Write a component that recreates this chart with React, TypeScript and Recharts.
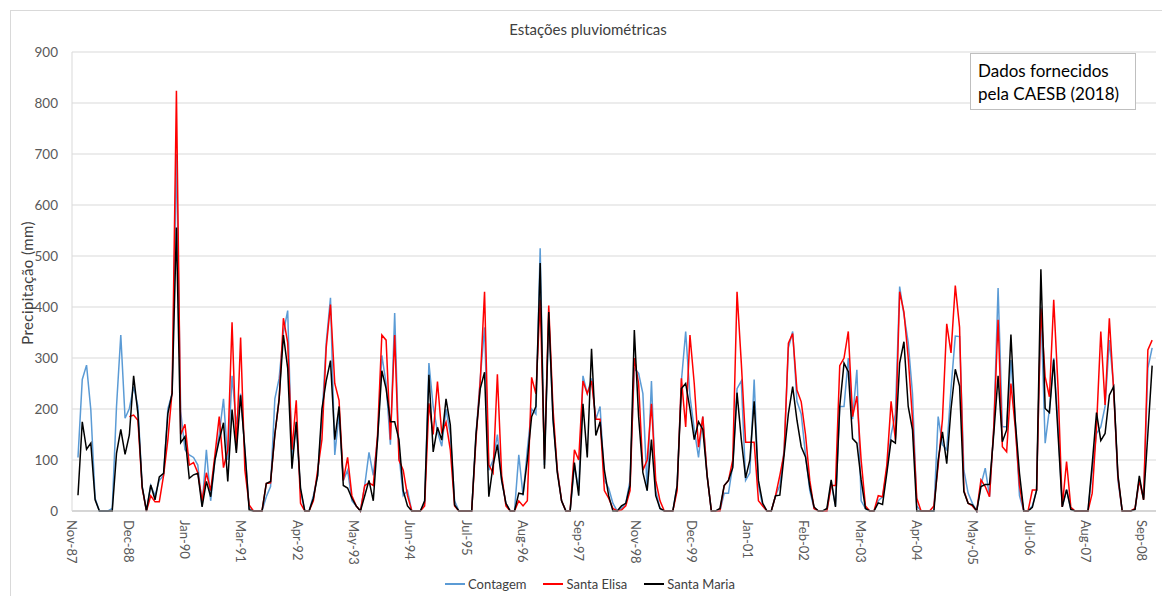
import React from "react";
import { CartesianGrid, Line, LineChart, XAxis, YAxis } from "recharts";

// monthly rainfall (mm), one value per month starting Dec-87
const CONTAGEM = [
  105, 258, 286, 198, 25, 0, 0, 0, 5, 205, 345, 182,
  201, 244, 205, 48, 0, 50, 30, 60, 70, 200, 230, 700,
  195, 120, 110, 105, 90, 10, 120, 20, 100, 150, 220, 100,
  265, 170, 230, 120, 5, 0, 0, 0, 28, 48, 220, 260,
  350, 393, 100, 170, 40, 0, 0, 30, 70, 180, 330, 418,
  110, 190, 60, 80, 20, 10, 0, 50, 115, 70, 140, 305,
  250, 130, 388, 110, 30, 40, 0, 0, 0, 15, 290, 205,
  155, 127, 200, 150, 20, 0, 0, 0, 0, 150, 260, 360,
  80, 100, 150, 60, 15, 0, 0, 110, 30, 120, 200, 190,
  515, 90, 380, 180, 80, 20, 0, 0, 90, 40, 265, 230,
  260, 180, 205, 60, 45, 15, 0, 5, 15, 60, 280, 270,
  230, 40, 255, 40, 5, 0, 0, 0, 50, 255, 352, 225,
  160, 105, 185, 70, 0, 0, 0, 35, 35, 90, 240, 255,
  60, 75, 258, 50, 10, 0, 0, 30, 50, 120, 320, 352,
  215, 190, 110, 40, 5, 0, 0, 0, 55, 10, 205, 205,
  300, 180, 277, 20, 5, 0, 0, 20, 28, 80, 150, 190,
  440, 385, 330, 230, 10, 0, 0, 0, 0, 185, 130, 120,
  240, 343, 342, 80, 35, 15, 0, 51, 84, 28, 165, 437,
  165, 165, 296, 180, 30, 0, 0, 10, 41, 400, 133, 200,
  300, 170, 8, 42, 3, 0, 0, 0, 0, 80, 152, 165,
  205, 335, 244, 60, 0, 0, 0, 3, 60, 25, 280, 320,
];

const SANTA_ELISA = [
  null, null, null, null, null, null, null, null, null, null, null, null,
  185, 188, 178, 45, 0, 30, 18, 18, 70, 140, 235, 824,
  150, 170, 90, 95, 75, 20, 75, 40, 110, 185, 85, 120,
  370, 120, 340, 80, 12, 0, 0, 0, 54, 55, 150, 218,
  378, 330, 120, 217, 15, 0, 0, 20, 80, 140, 320, 405,
  250, 217, 60, 105, 30, 10, 0, 50, 55, 50, 150, 345,
  335, 140, 345, 100, 80, 30, 0, 0, 0, 10, 211, 150,
  254, 152, 174, 120, 10, 0, 0, 0, 0, 140, 255, 430,
  90, 75, 268, 70, 10, 0, 0, 20, 10, 20, 262, 230,
  414, 100, 403, 200, 80, 20, 0, 0, 120, 100, 255, 230,
  255, 180, 180, 40, 25, 5, 0, 2, 10, 40, 300, 250,
  80, 100, 210, 60, 20, 0, 0, 0, 40, 260, 165, 345,
  250, 125, 185, 70, 0, 0, 0, 50, 60, 100, 430, 290,
  135, 135, 135, 20, 10, 0, 0, 30, 70, 113, 329, 348,
  237, 214, 150, 60, 5, 0, 0, 0, 50, 50, 285, 300,
  352, 185, 225, 100, 10, 0, 0, 30, 28, 90, 215, 140,
  430, 390, 300, 180, 25, 0, 0, 0, 10, 90, 180, 367,
  310, 442, 360, 40, 15, 10, 0, 61, 48, 28, 165, 375,
  126, 116, 250, 165, 50, 0, 0, 41, 41, 397, 263, 224,
  414, 244, 8, 97, 7, 0, 0, 0, 0, 35, 165, 352,
  208, 378, 237, 67, 0, 0, 0, 5, 61, 22, 316, 335,
];

const SANTA_MARIA = [
  31, 175, 121, 133, 22, 0, 0, 0, 0, 113, 160, 111,
  149, 265, 191, 48, 0, 51, 22, 67, 74, 191, 231, 556,
  134, 146, 64, 71, 74, 8, 58, 28, 100, 139, 173, 58,
  199, 114, 227, 120, 2, 0, 0, 0, 54, 58, 150, 220,
  345, 280, 83, 175, 45, 0, 0, 25, 70, 200, 255, 295,
  140, 205, 50, 45, 25, 10, 0, 30, 60, 20, 140, 275,
  240, 175, 175, 140, 40, 10, 0, 0, 0, 20, 267, 116,
  164, 139, 220, 169, 12, 0, 0, 0, 0, 150, 240, 272,
  28, 90, 130, 60, 15, 0, 0, 35, 33, 100, 185, 205,
  486, 83, 390, 180, 75, 20, 0, 0, 95, 30, 210, 105,
  318, 148, 175, 80, 30, 0, 0, 10, 15, 50, 355, 185,
  75, 40, 140, 30, 5, 0, 0, 0, 50, 240, 250, 200,
  140, 175, 160, 70, 0, 0, 5, 50, 60, 85, 232, 140,
  65, 100, 215, 60, 15, 0, 0, 30, 31, 110, 191, 244,
  178, 126, 106, 48, 8, 0, 0, 5, 61, 8, 205, 290,
  273, 142, 133, 61, 5, 0, 0, 16, 13, 74, 139, 133,
  290, 332, 205, 159, 0, 0, 0, 0, 0, 100, 155, 93,
  200, 278, 245, 38, 15, 12, 0, 48, 52, 52, 152, 265,
  136, 159, 346, 178, 74, 0, 0, 7, 41, 474, 201, 193,
  297, 152, 8, 42, 3, 0, 0, 0, 0, 93, 193, 138,
  152, 227, 244, 71, 0, 0, 0, 3, 69, 22, 152, 285,
];

const TICK_LABELS = [
  "Nov-87", "Dec-88", "Jan-90", "Mar-91", "Apr-92", "May-93", "Jun-94",
  "Jul-95", "Aug-96", "Sep-97", "Nov-98", "Dec-99", "Jan-01", "Feb-02",
  "Mar-03", "Apr-04", "May-05", "Jul-06", "Aug-07", "Sep-08",
];

const Y_TICKS = [0, 100, 200, 300, 400, 500, 600, 700, 800, 900];

// excel date axis: labels fall every ~13.16 months, first one just before the first point
const TICK_STEP = 13.158;
const TICK_START = -1.4;
const TICK_POS = TICK_LABELS.map((_, k) => TICK_START + k * TICK_STEP);

const FONT = "Lato, 'Open Sans', sans-serif";

const data = SANTA_MARIA.map((v, i) => ({
  i,
  contagem: CONTAGEM[i],
  elisa: SANTA_ELISA[i],
  maria: v,
}));

const SERIES = [
  { key: "contagem", name: "Contagem", color: "#5B9BD5" },
  { key: "elisa", name: "Santa Elisa", color: "#FF0000" },
  { key: "maria", name: "Santa Maria", color: "#000000" },
];

function XTick(props: any) {
  const { x, y, payload } = props;
  const k = Math.round((payload.value - TICK_START) / TICK_STEP);
  return (
    <text
      x={x}
      y={y}
      transform={`rotate(90 ${x} ${y})`}
      textAnchor="start"
      dy="0.35em"
      fill="#595959"
      fontSize={13}
      fontFamily={FONT}
    >
      {TICK_LABELS[k]}
    </text>
  );
}

export default function App() {
  return (
    <div
      style={{
        position: "absolute",
        left: 0,
        top: 0,
        width: 1162,
        height: 596,
        background: "#fff",
        fontFamily: FONT,
        overflow: "hidden",
      }}
    >
      <div
        style={{
          position: "absolute",
          left: 10,
          top: 10,
          width: 1160,
          height: 600,
          borderLeft: "1px solid #d9d9d9",
          borderTop: "1px solid #d9d9d9",
        }}
      />
      <div
        style={{
          position: "absolute",
          left: 10,
          top: 20,
          width: 1156,
          textAlign: "center",
          fontSize: 15,
          color: "#404040",
        }}
      >
        Estações pluviométricas
      </div>
      <div
        style={{
          position: "absolute",
          left: 27,
          top: 283,
          transform: "translate(-50%, -50%) rotate(-90deg)",
          whiteSpace: "nowrap",
          fontSize: 15,
          letterSpacing: 0.4,
          color: "#404040",
        }}
      >
        Precipitação (mm)
      </div>
      <LineChart
        width={1162}
        height={596}
        data={data}
        margin={{ top: 52, right: 6, bottom: 25, left: 0 }}
      >
        <CartesianGrid vertical={false} stroke="#d9d9d9" />
        <XAxis
          dataKey="i"
          type="number"
          domain={[TICK_START, 251.9]}
          ticks={TICK_POS}
          interval={0}
          height={60}
          tickLine={false}
          tickSize={0}
          tickMargin={9}
          stroke="#bfbfbf"
          tick={<XTick />}
        />
        <YAxis
          domain={[0, 900]}
          ticks={Y_TICKS}
          width={72}
          tickLine={false}
          tickSize={0}
          tickMargin={14}
          stroke="#d9d9d9"
          tick={{ fill: "#595959", fontSize: 13.5, fontFamily: FONT }}
        />
        {SERIES.map((s) => (
          <Line
            key={s.key}
            type="linear"
            dataKey={s.key}
            name={s.name}
            stroke={s.color}
            strokeWidth={1.5}
            dot={false}
            activeDot={false}
            isAnimationActive={false}
          />
        ))}
      </LineChart>
      <div
        style={{
          position: "absolute",
          left: 970,
          top: 53,
          width: 166,
          height: 57,
          border: "1px solid #bfbfbf",
          background: "#fff",
          boxSizing: "border-box",
          padding: "5px 0 0 7px",
          fontSize: 17,
          lineHeight: "23px",
          color: "#000",
        }}
      >
        Dados fornecidos
        <br />
        pela CAESB (2018)
      </div>
      <div
        style={{
          position: "absolute",
          left: 0,
          top: 576,
          width: 1180,
          display: "flex",
          justifyContent: "center",
          gap: 17,
          fontSize: 13,
          color: "#404040",
        }}
      >
        {SERIES.map((s) => (
          <div key={s.key} style={{ display: "flex", alignItems: "center" }}>
            <span
              style={{
                display: "inline-block",
                width: 20,
                height: 2,
                background: s.color,
                marginRight: 3,
              }}
            />
            <span>{s.name}</span>
          </div>
        ))}
      </div>
    </div>
  );
}
